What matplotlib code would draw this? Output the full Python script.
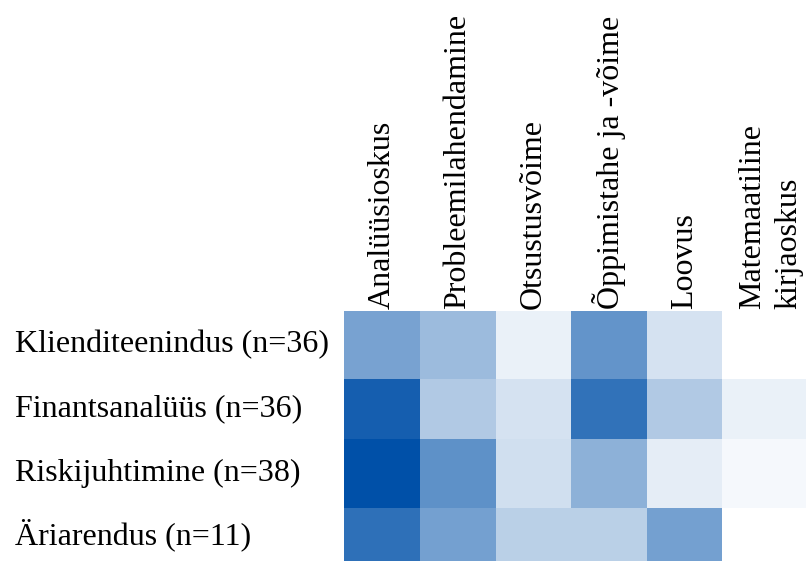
import numpy as np
import matplotlib
matplotlib.use("Agg")
import matplotlib.pyplot as plt
from matplotlib.colors import LinearSegmentedColormap
from matplotlib.transforms import blended_transform_factory

# data: share of job ads (%) mentioning each skill, per area
areas = ["Klienditeenindus (n=36)", "Finantsanalüüs (n=36)",
         "Riskijuhtimine (n=38)", "Äriarendus (n=11)"]
skills = ["Analüüsioskus", "Probleemilahendamine", "Otsustusvõime",
          "Õppimistahe ja -võime", "Loovus", "Matemaatiline\nkirjaoskus"]
shares = [
    [52.8, 38.9, 8.3, 61.1, 16.7, 0.0],
    [91.7, 30.6, 16.7, 80.6, 30.6, 8.3],
    [100.0, 63.2, 18.4, 44.7, 10.5, 4.0],
    [81.8, 54.5, 27.3, 27.3, 54.5, 0.0],
]

# layout (pixels) - table cells are not uniform in the original,
# and the last column runs past the right edge of the picture
col_widths = [76, 76, 75, 76, 75, 98]
row_heights = [68, 60, 69, 53]

W, H, DPI = 806, 561, 100
fig = plt.figure(figsize=(W / DPI, H / DPI), dpi=DPI)
left_px, top_px = 344, 311
ax = fig.add_axes([left_px / W, 0, sum(col_widths) / W, 1 - top_px / H])

x_edges = np.concatenate([[0], np.cumsum(col_widths)])
y_edges = np.concatenate([[0], np.cumsum(row_heights)])
cmap = LinearSegmentedColormap.from_list("wb", ["#FFFFFF", "#0050A8"])
ax.pcolormesh(x_edges, y_edges, np.array(shares), cmap=cmap, vmin=0, vmax=100)
ax.set_xlim(x_edges[0], x_edges[-1])
ax.set_ylim(y_edges[-1], y_edges[0])
ax.axis("off")

font = "Liberation Serif"
fs = 23

# row labels, left aligned at the figure edge
trans = blended_transform_factory(fig.transFigure, ax.transData)
y_centers = (y_edges[:-1] + y_edges[1:]) / 2
for yc, label in zip(y_centers, areas):
    ax.text(15 / W, yc, label, transform=trans, ha="left", va="center",
            fontsize=fs, family=font)

# column labels, rotated above the cells
x_centers = (x_edges[:-1] + x_edges[1:]) / 2
for xc, label in zip(x_centers, skills):
    ax.text(xc, -2, label, ha="center", va="bottom", rotation=90,
            multialignment="left", fontsize=fs, family=font,
            linespacing=1.35, clip_on=False)

fig.savefig("out.png", dpi=DPI)
